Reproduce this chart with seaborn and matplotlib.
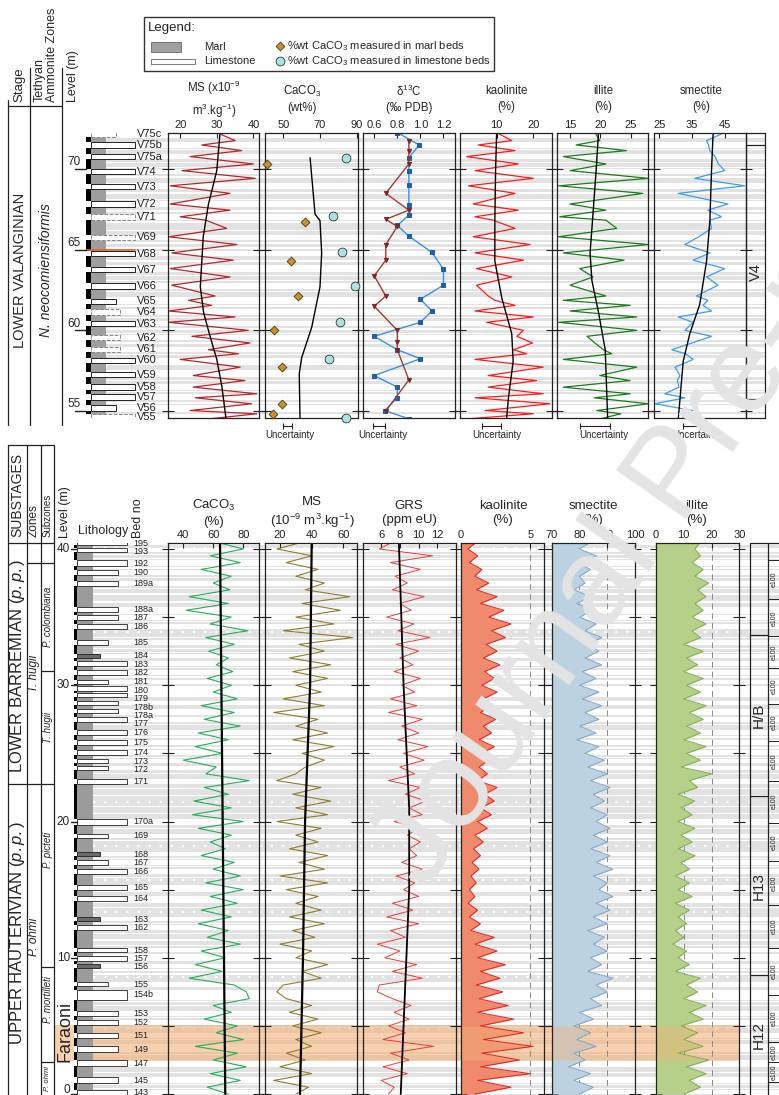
import numpy as np
import pandas as pd
import matplotlib
matplotlib.use("Agg")
import matplotlib.pyplot as plt
import seaborn as sns
from matplotlib.patches import Rectangle
from matplotlib.ticker import FormatStrFormatter

# ---------------------------------------------------------------- data
# Lower Valanginian section (levels in m)
lv_top = [72.26, 71.76, 71.49, 71.14, 70.77, 70.31, 69.90, 69.42, 68.96, 68.49,
          67.83, 67.45, 67.04, 66.83, 66.32, 65.80, 65.32, 64.80, 64.35, 63.83,
          63.31, 62.80, 62.13, 61.86, 61.55, 61.20, 60.83, 60.50, 60.00, 59.63,
          59.22, 58.80, 58.55, 58.20, 57.72, 57.20, 56.89, 56.48, 56.07, 55.82,
          55.45, 55.03, 54.83, 54.52]
ms_top = [30.0, 35.0, 25.9, 36.8, 22.7, 40.0, 20.5, 40.5, 17.3, 33.6,
          17.3, 33.6, 20.0, 27.0, 32.7, 16.8, 35.5, 17.7, 34.5, 17.3,
          33.6, 17.7, 29.5, 22.3, 28.6, 16.8, 35.0, 16.8, 38.6, 23.2,
          39.1, 27.7, 35.9, 20.0, 36.4, 23.6, 37.7, 23.6, 40.9, 24.1,
          39.5, 22.7, 40.9, 28.2]
kao_top = [10.0, 14.1, 5.0, 15.0, 1.8, 15.9, 4.1, 20.0, 2.3, 15.0,
           3.6, 15.9, 4.1, 9.0, 15.0, 3.6, 19.1, 4.1, 17.3, 4.5,
           14.1, 4.5, 7.7, 9.5, 15.0, 4.1, 20.0, 7.3, 17.3, 15.5,
           19.8, 14.5, 18.2, 4.1, 22.7, 7.7, 20.9, 7.7, 22.7, 4.1,
           24.5, 6.8, 20.0, 2.3]
ill_top = [19.1, 19.9, 16.0, 24.3, 13.9, 20.9, 15.0, 27.9, 13.1, 27.0,
           15.0, 20.9, 13.3, 20.9, 22.7, 13.1, 27.9, 13.9, 23.9, 16.6,
           18.8, 15.0, 20.9, 13.9, 24.9, 15.0, 26.0, 13.1, 26.0, 17.8,
           19.1, 20.5, 21.9, 13.9, 26.0, 19.9, 24.9, 13.9, 24.9, 19.0,
           27.9, 19.4, 23.4, 20.0]
sme_top = [44.9, 39.4, 40.0, 40.4, 42.0, 43.0, 44.9, 35.8, 51.0, 30.8,
           45.9, 39.8, 43.9, 40.4, 40.9, 37.0, 32.8, 40.4, 35.3, 44.9,
           39.4, 42.9, 36.3, 39.8, 38.3, 40.9, 30.8, 35.3, 32.8, 40.9,
           35.0, 28.8, 33.0, 35.3, 29.8, 31.3, 30.5, 31.0, 26.7, 32.8,
           23.7, 35.3, 33.0, 32.0]

ms_tr_lv = [72.3, 69.9, 67.8, 65.8, 62.7, 61.1, 59.6, 58.2, 56.5, 54.55]
ms_tr = [30.9, 30.0, 27.7, 26.3, 25.5, 26.4, 28.2, 30.0, 31.4, 32.5]
cc_tr_lv = [70.7, 67.2, 66.8, 64.8, 62.7, 60.2, 58.3, 57.3, 54.55]
cc_tr = [64.6, 67.3, 70.0, 70.9, 70.0, 65.5, 60.0, 58.7, 59.1]
kao_tr_lv = [72.3, 69.9, 66.8, 64.3, 62.0, 59.8, 58.1, 55.8, 54.55]
kao_tr = [10.0, 9.7, 9.5, 9.5, 11.4, 14.1, 14.5, 13.2, 12.7]
ill_tr_lv = [72.3, 69.9, 66.8, 64.8, 63.1, 61.1, 58.8, 54.55]
ill_tr = [19.7, 19.3, 18.7, 18.3, 18.6, 19.7, 20.8, 21.2]
sme_tr_lv = [72.3, 69.9, 66.8, 64.3, 61.6, 59.8, 58.1, 54.55]
sme_tr = [41.4, 40.9, 40.4, 39.4, 37.3, 34.3, 32.3, 30.8]

cc_marl_lv = [70.29, 66.73, 64.31, 62.13, 60.00, 57.72, 55.45, 54.83]
cc_marl = [40.9, 61.8, 54.2, 58.2, 44.9, 49.1, 49.1, 44.2]
cc_lime_lv = [70.70, 67.10, 64.83, 62.75, 60.50, 58.24, 54.55]
cc_lime = [84.2, 76.9, 81.8, 89.1, 80.9, 75.1, 84.2]

c13_lime_lv = [72.26, 71.49, 70.70, 69.90, 69.00, 67.76, 67.14, 66.50, 65.84, 64.83,
               63.79, 62.80, 61.93, 61.20, 60.50, 59.63, 58.80, 58.24, 57.20, 56.48,
               55.82, 55.03, 54.52]
c13_lime = [0.80, 0.99, 0.90, 0.90, 0.90, 0.90, 0.90, 0.80, 0.90, 1.10,
            1.20, 1.20, 1.00, 1.10, 1.00, 0.60, 0.80, 1.00, 0.60, 0.80,
            0.80, 0.69, 0.90]
c13_marl_lv = [71.76, 71.14, 70.31, 68.49, 67.45, 66.88, 66.44, 65.32, 64.35, 63.38,
               62.13, 61.50, 60.00, 59.28, 58.80, 56.93, 55.00]
c13_marl = [0.90, 0.90, 0.90, 0.70, 0.90, 0.70, 0.80, 0.70, 0.70, 0.60,
            0.70, 0.60, 0.80, 0.80, 0.80, 0.90, 0.70]

# analytical uncertainty (half-width)
unc_caco3, unc_c13, unc_kao, unc_ill, unc_sme = 2.5, 0.05, 2.5, 2.5, 2.5

top_beds = ["V75c", "V75b", "V75a", "V74", "V73", "V72", "V71", "V69", "V68", "V67",
            "V66", "V65", "V64", "V63", "V62", "V61", "V60", "V59", "V58", "V57",
            "V56", "V55"]
top_bed_lv = [72.15, 71.49, 70.76, 69.83, 68.90, 67.83, 67.04, 65.76, 64.76, 63.77,
              62.75, 61.80, 61.14, 60.42, 59.55, 58.82, 58.14, 57.25, 56.48, 55.86,
              55.20, 54.66]
top_bed_hard = [1, 3, 3, 3, 3, 3, 3, 3, 3, 3, 3, 1, 2, 3, 2, 2, 3, 3, 3, 3, 1, 3]
top_bed_nodular = [1, 0, 0, 0, 0, 0, 1, 1, 0, 0, 0, 0, 1, 0, 1, 1, 0, 0, 0, 0, 0, 1]
top_thin = [72.0, 71.2, 70.4, 70.1, 69.5, 69.1, 68.5, 68.1, 67.4, 66.7, 66.2, 65.4,
            65.1, 64.3, 64.0, 63.4, 63.1, 62.4, 62.0, 61.5, 60.8, 60.1, 59.8, 59.2,
            58.5, 57.9, 57.5, 56.9, 56.2, 55.5, 55.0]

# Upper Hauterivian - Lower Barremian section, sampled every 0.5 m
lv_bot = np.arange(40.5, -0.25, -0.5)
caco3_b = [62, 80, 58, 78, 52, 72, 60, 71, 44, 70,
           42, 72, 58, 83, 55, 74, 57, 70, 62, 73,
           56, 72, 60, 76, 52, 74, 54, 78, 50, 70,
           48, 66, 40, 62, 55, 84, 54, 70, 47, 72,
           46, 80, 50, 72, 58, 68, 52, 74, 60, 78,
           55, 80, 58, 76, 52, 72, 50, 70, 56, 78,
           52, 68, 48, 66, 44, 74, 82, 84, 60, 72,
           54, 76, 62, 80, 48, 76, 60, 82, 58, 78,
           56, 70]
ms_b = [34, 18, 40, 24, 44, 30, 48, 36, 64, 34,
        58, 30, 54, 22, 66, 32, 48, 26, 52, 28,
        50, 30, 46, 22, 48, 16, 44, 30, 50, 28,
        54, 34, 48, 36, 30, 18, 46, 28, 52, 30,
        50, 18, 46, 30, 44, 26, 50, 32, 48, 20,
        50, 24, 44, 30, 46, 26, 48, 28, 42, 20,
        40, 30, 50, 34, 46, 22, 18, 24, 40, 26,
        44, 28, 46, 30, 40, 24, 36, 20, 40, 16,
        38, 30]
grs_b = [7.2, 5.8, 11.5, 7.0, 10.2, 7.5, 8.8, 7.2, 10.6, 8.0,
         9.2, 6.6, 9.5, 7.8, 11.2, 7.6, 10.0, 8.0, 9.4, 7.4,
         10.2, 8.2, 9.6, 7.0, 9.8, 6.8, 10.4, 8.2, 10.0, 7.8,
         11.0, 8.4, 10.6, 8.0, 9.6, 6.8, 10.2, 8.6, 10.8, 9.0,
         10.4, 7.4, 10.0, 8.8, 10.2, 9.0, 9.8, 8.2, 10.4, 7.6,
         9.6, 8.4, 10.0, 7.2, 9.4, 6.6, 10.0, 7.0, 8.6, 5.6,
         8.0, 6.4, 9.8, 7.2, 10.4, 5.8, 5.6, 7.2, 9.2, 7.4,
         9.0, 6.8, 8.6, 6.2, 11.6, 7.0, 9.0, 6.2, 8.8, 6.0,
         7.4, 6.8]
kao_b = [1.1, 0.5, 1.2, 0.6, 1.5, 1.0, 2.0, 1.1, 2.6, 1.4,
         3.1, 2.0, 3.6, 2.2, 3.2, 1.8, 2.6, 1.6, 2.8, 1.7,
         2.4, 1.5, 2.6, 1.6, 2.2, 1.4, 2.5, 1.6, 2.2, 1.3,
         2.4, 1.5, 2.0, 1.3, 1.9, 1.2, 2.6, 1.7, 2.4, 1.4,
         2.2, 1.2, 1.9, 1.0, 1.6, 0.9, 1.4, 0.8, 1.3, 0.7,
         1.1, 0.6, 1.0, 0.5, 1.2, 0.6, 1.4, 0.7, 2.4, 1.0,
         2.6, 1.2, 3.2, 1.4, 2.8, 1.1, 3.0, 1.3, 3.4, 1.2,
         3.8, 1.4, 4.5, 1.6, 5.2, 1.5, 4.2, 1.4, 5.0, 1.2,
         3.6, 1.0]
sme_b = [84, 80, 86, 79, 84, 80, 82, 78, 84, 79,
         85, 80, 86, 82, 88, 83, 87, 82, 88, 81,
         86, 80, 87, 81, 88, 82, 87, 80, 86, 79,
         87, 82, 89, 83, 90, 84, 91, 85, 89, 84,
         90, 86, 91, 85, 90, 84, 91, 86, 92, 85,
         90, 87, 92, 86, 91, 85, 90, 83, 89, 85,
         90, 84, 88, 83, 92, 86, 90, 84, 88, 80,
         85, 78, 84, 79, 86, 78, 82, 76, 84, 78,
         85, 80]
ill_b = [16, 14, 16, 13, 17, 14, 19, 15, 18, 14,
         17, 13, 18, 13, 16, 10, 17, 11, 15, 10,
         17, 11, 16, 10, 18, 12, 17, 11, 16, 10,
         18, 11, 16, 9, 20, 12, 15, 8, 14, 9,
         13, 8, 14, 9, 13, 8, 14, 9, 12, 7,
         12, 8, 13, 7, 12, 8, 11, 7, 10, 6,
         11, 8, 12, 7, 16, 11, 15, 10, 18, 12,
         17, 9, 15, 10, 17, 8, 19, 11, 18, 12,
         16, 10]
caco3_b_tr_lv = [40.46, 0.0]
caco3_b_tr = [64.5, 68.0]
ms_b_tr_lv = [40.46, 30.0, 20.0, 10.0, 0.0]
ms_b_tr = [40.0, 39.0, 35.8, 34.5, 32.6]
grs_b_tr_lv = [40.46, 30.0, 21.0, 15.0, 10.0, 0.0]
grs_b_tr = [7.9, 8.4, 9.0, 9.0, 8.7, 8.1]

bot_beds = ["195", "193", "192", "190", "189a", "188a", "187", "186", "185", "184",
            "183", "182", "181", "180", "179", "178b", "178a", "177", "176", "175",
            "174", "173", "172", "171", "170a", "169", "168", "167", "166", "165",
            "164", "163", "162", "158", "157", "156", "155", "154b", "153", "152",
            "151", "149", "147", "145", "143"]
bot_bed_lv = [40.40, 39.90, 38.95, 38.26, 37.48, 35.57, 34.99, 34.30, 33.12, 32.17,
              31.61, 30.92, 30.26, 29.78, 29.28, 28.72, 28.11, 27.50, 26.55, 25.81,
              25.08, 24.44, 23.90, 22.92, 19.99, 18.96, 17.59, 16.98, 16.32, 15.16,
              14.36, 12.82, 12.23, 10.57, 9.96, 9.42, 8.05, 7.27, 5.92, 5.23,
              4.31, 3.30, 2.25, 1.03, 0.12]
bot_bed_thick = [0.2, 0.3, 0.45, 0.35, 0.35, 0.35, 0.35, 0.35, 0.35, 0.3,
                 0.35, 0.35, 0.3, 0.35, 0.35, 0.3, 0.35, 0.4, 0.4, 0.4,
                 0.4, 0.3, 0.3, 0.4, 0.45, 0.3, 0.3, 0.35, 0.4, 0.4,
                 0.35, 0.3, 0.35, 0.35, 0.35, 0.3, 0.3, 0.7, 0.35, 0.35,
                 0.4, 0.45, 0.45, 0.4, 0.4]
bot_bed_hard = [3, 3, 3, 2, 2, 2, 2, 3, 1, 0,
                3, 3, 1, 3, 3, 2, 2, 3, 3, 3,
                3, 1, 1, 3, 3, 1, 0, 1, 3, 3,
                3, 0, 3, 3, 3, 0, 1, 3, 2, 2,
                2, 2, 3, 2, 3]
bot_thin = [39.6, 39.3, 38.6, 37.9, 37.1, 36.7, 36.1, 35.3, 34.7, 33.5, 32.7, 32.4,
            31.3, 30.6, 29.5, 27.9, 27.1, 26.2, 25.4, 24.7, 23.5, 22.4, 21.9, 21.1,
            20.6, 19.5, 18.6, 17.3, 16.7, 15.9, 14.9, 14.1, 13.7, 12.5, 11.8, 11.3,
            10.9, 10.2, 9.1, 8.8, 7.9, 6.8, 6.5, 5.6, 4.9, 4.0, 3.6, 2.9, 2.0, 1.6,
            0.7, 0.4]
bot_dotted = [40.07, 33.9, 21.45, 18.2, 15.7, 13.38, 8.57, 4.77]
faraoni = (2.42, 5.06)
seq_bounds = [40.46, 33.7, 21.9, 8.7, -0.07]
seq_names = ["", "H/B", "H13", "H12"]
e100_bounds = [39.2, 36.3, 33.6, 31.3, 28.6, 25.9, 23.0, 19.9, 17.1, 13.9, 10.7,
               7.3, 3.8, 2.35, 0.9]

# ---------------------------------------------------------------- style
sns.set_style("white")
plt.rcParams["font.family"] = ["Liberation Sans", "DejaVu Sans"]
plt.rcParams["mathtext.fontset"] = "custom"
plt.rcParams["mathtext.rm"] = "Liberation Sans"
plt.rcParams["mathtext.it"] = "Liberation Sans:italic"
plt.rcParams["mathtext.default"] = "regular"

W, H = 779, 1095
fig = plt.figure(figsize=(W / 100, H / 100), dpi=100)
fig.patch.set_facecolor("white")

BAND = "#e2e2e2"
ORANGE = "#f2b27a"
TOP_Y = (132.7, 418.3)
TOP_LIM = (54.55, 72.25)
BOT_Y = (542.7, 1095.0)
BOT_LIM = (-0.07, 40.46)


def px_axes(x0, y0, x1, y1, z=1):
    ax = fig.add_axes([x0 / W, 1 - y1 / H, (x1 - x0) / W, (y1 - y0) / H])
    ax.set_zorder(z)
    return ax


def backdrop(yr, lim):
    ax = px_axes(0, yr[0], W, yr[1], z=0)
    ax.set_xlim(0, W)
    ax.set_ylim(lim)
    ax.axis("off")
    return ax


def style_col(ax, xlim, ticks, lim, fmt, ytk):
    ax.set_facecolor("none")
    ax.set_xlim(xlim)
    ax.set_ylim(lim)
    ax.xaxis.tick_top()
    ax.set_xticks(ticks)
    ax.xaxis.set_major_formatter(FormatStrFormatter(fmt))
    ax.tick_params(axis="x", direction="in", length=3.5, width=0.8, labelsize=8,
                   pad=2, top=True, bottom=False, labeltop=True, labelbottom=False,
                   colors="#222")
    ax.set_yticks(ytk)
    ax.tick_params(axis="y", direction="inout", length=8, width=0.8, left=True,
                   right=True, labelleft=False, colors="#222")
    for s in ax.spines.values():
        s.set_linewidth(0.9)
        s.set_color("#222")
        s.set_visible(True)
    ax.set_xlabel("")
    ax.set_ylabel("")


def trace(ax, vals, lv, color, lw, **kw):
    df = pd.DataFrame({"v": vals, "lv": lv})
    sns.lineplot(data=df, x="v", y="lv", orient="y", sort=True, estimator=None,
                 color=color, lw=lw, ax=ax, **kw)
    ax.set_xlabel("")
    ax.set_ylabel("")


def spread(levels, gap):
    """Label positions pushed apart (top to bottom) so neighbours keep a minimum gap."""
    out = []
    for lv in levels:
        if out and out[-1] - lv < gap:
            lv = out[-1] - gap
        out.append(lv)
    return out


# ================================================================ top panel
bg_t = backdrop(TOP_Y, TOP_LIM)
span_t = TOP_LIM[1] - TOP_LIM[0]
bg_t.add_patch(Rectangle((86, TOP_LIM[0]), 765 - 86, span_t, color=BAND, lw=0, zorder=1))
for lv in top_thin:
    bg_t.add_patch(Rectangle((86, lv - 0.05), 765 - 86, 0.1, color="white", lw=0, zorder=1.1))
for lv in top_bed_lv:
    bg_t.add_patch(Rectangle((86, lv - 0.17), 765 - 86, 0.34, color="white", lw=0, zorder=1.1))

# lithology log
bg_t.add_patch(Rectangle((86, TOP_LIM[0]), 4.7, span_t, color="black", lw=0, zorder=2))
bg_t.add_patch(Rectangle((90.7, TOP_LIM[0]), 15.3, span_t, color="#9e9e9e", lw=0, zorder=2))
top_edge = {1: 116.0, 2: 120.0, 3: 135.0}
for name, lv, hd, nod in zip(top_beds, top_bed_lv, top_bed_hard, top_bed_nodular):
    bg_t.add_patch(Rectangle((86, lv - 0.17), 4.7, 0.34, color="white", lw=0, zorder=2.1))
    bg_t.add_patch(Rectangle((90.7, lv - 0.17), top_edge[hd] - 90.7, 0.34,
                             facecolor="white",
                             edgecolor="#888888" if nod else "#222222",
                             ls="--" if nod else "-", lw=0.7, zorder=2.2))
    bg_t.text(137, lv, name, fontsize=8, va="center", ha="left", color="#222")
bg_t.plot([86, 135], [64.95, 64.95], color="#e8602c", lw=1.2, zorder=2.3)
for lv in [55, 60, 65, 70]:
    bg_t.plot([75, 86], [lv, lv], color="#222", lw=1, zorder=2.3)
    bg_t.text(81, lv + 0.42, str(lv), fontsize=8.5, ha="right", va="center")

# V4 box
for x in (745.7, 765):
    bg_t.plot([x, x], list(TOP_LIM), color="#222", lw=0.9, clip_on=False)
for lv in (TOP_LIM[1], 71.49, 55.73, TOP_LIM[0]):
    bg_t.plot([745.7, 765], [lv, lv], color="#222", lw=0.9, clip_on=False)
bg_t.text(755.5, 63.6, "V4", rotation=90, ha="center", va="center", fontsize=10.5)

top_cols = [
    (167.7, 259.3, (16.6, 41.6), [20, 30, 40], "%g"),
    (265.3, 358.0, (40.2, 90.7), [50, 70, 90], "%g"),
    (362.7, 455.0, (0.5, 1.3), [0.6, 0.8, 1.0, 1.2], "%.1f"),
    (460.0, 551.7, (0.0, 25.0), [10, 20], "%g"),
    (557.3, 648.3, (12.9, 27.9), [15, 20, 25], "%g"),
    (654.0, 745.7, (23.4, 51.3), [25, 35, 45], "%g"),
]
tax = []
for x0, x1, xl, tk, fm in top_cols:
    a = px_axes(x0, TOP_Y[0], x1, TOP_Y[1], z=2)
    style_col(a, xl, tk, TOP_LIM, fm, [55, 60, 65, 70])
    tax.append(a)

a_ms, a_cc, a_c13, a_kao, a_ill, a_sme = tax
trace(a_ms, ms_top, lv_top, "#b8262c", 0.9)
trace(a_ms, ms_tr, ms_tr_lv, "black", 1.0)
trace(a_cc, cc_tr, cc_tr_lv, "black", 1.0)
sns.scatterplot(x=cc_marl, y=cc_marl_lv, marker="D", s=20, color="#c8902e",
                edgecolor="#4a3a10", linewidth=0.6, ax=a_cc, clip_on=False, zorder=5)
sns.scatterplot(x=cc_lime, y=cc_lime_lv, marker="o", s=40, color="#a8e4e4",
                edgecolor="#333333", linewidth=0.6, ax=a_cc, clip_on=False, zorder=5)
trace(a_c13, c13_lime, c13_lime_lv, "#3a8fe8", 1.0, marker="s", markersize=3,
      markerfacecolor="#1f5fb0", markeredgecolor="#1f5fb0")
trace(a_c13, c13_marl, c13_marl_lv, "#a33a2e", 1.0, marker="v", markersize=3,
      markerfacecolor="#7a2a20", markeredgecolor="#7a2a20")
trace(a_kao, kao_top, lv_top, "#ff1a1a", 0.9)
trace(a_kao, kao_tr, kao_tr_lv, "black", 1.0)
trace(a_ill, ill_top, lv_top, "#1a7d1a", 0.9)
trace(a_ill, ill_tr, ill_tr_lv, "black", 1.0)
trace(a_sme, sme_top, lv_top, "#3d9df0", 0.9)
trace(a_sme, sme_tr, sme_tr_lv, "black", 1.0)
for a in tax:
    a.set_ylim(TOP_LIM)

# uncertainty bars under the columns
for a, xc, u in [(a_cc, 52.3, unc_caco3), (a_c13, 0.64, unc_c13), (a_kao, 8.6, unc_kao),
                 (a_ill, 19.1, unc_ill), (a_sme, 34.8, unc_sme)]:
    tr = a.get_xaxis_transform()
    a.errorbar([xc], [-0.027], xerr=[u], transform=tr, color="#222", lw=0.8,
               capsize=2, capthick=0.8, clip_on=False)
    a.text(xc + u * 0.6, -0.058, "Uncertainty", transform=tr, ha="center",
           va="center", fontsize=7)

# ================================================================ bottom panel
bg_b = backdrop(BOT_Y, BOT_LIM)
span_b = BOT_LIM[1] - BOT_LIM[0]
bg_b.add_patch(Rectangle((77, BOT_LIM[0]), W - 77, span_b, color=BAND, lw=0, zorder=1))
for lv in bot_thin:
    bg_b.add_patch(Rectangle((77, lv - 0.05), W - 77, 0.1, color="white", lw=0, zorder=1.1))
for lv, th in zip(bot_bed_lv, bot_bed_thick):
    bg_b.add_patch(Rectangle((77, lv - th / 2), W - 77, th, color="white", lw=0, zorder=1.1))
for lv in bot_dotted:
    bg_b.plot([93, 750], [lv, lv], color="white", lw=1.6, ls=(0, (1, 4)), zorder=1.2)
bg_b.add_patch(Rectangle((54.3, faraoni[0]), 739.3 - 54.3, faraoni[1] - faraoni[0],
                         color=ORANGE, alpha=0.6, lw=0, zorder=1.3))

# lithology log
bg_b.add_patch(Rectangle((74, BOT_LIM[0]), 3.3, span_b, color="black", lw=0, zorder=2))
bg_b.add_patch(Rectangle((77.3, BOT_LIM[0]), 15.4, span_b, color="#9b9b9b", lw=0, zorder=2))
bot_edge = {0: 100.0, 1: 108.0, 2: 118.0, 3: 127.0}
label_lv = spread(bot_bed_lv, 0.62)
for name, lv, th, hd, tl in zip(bot_beds, bot_bed_lv, bot_bed_thick, bot_bed_hard, label_lv):
    bg_b.add_patch(Rectangle((74, lv - th / 2), 3.3, th, color="white", lw=0, zorder=2.1))
    bg_b.add_patch(Rectangle((77.3, lv - th / 2), bot_edge[hd] - 77.3, th,
                             facecolor="white" if hd else "#6a6a6a",
                             edgecolor="#222", lw=0.6, zorder=2.2))
    bg_b.text(133, tl, name, fontsize=6.5, va="center", ha="left", color="#222")
for lv in [0, 10, 20, 30, 40]:
    bg_b.plot([71, 77], [lv, lv], color="#222", lw=1, zorder=2.3, clip_on=False)
    bg_b.text(70, max(lv, 0.3), str(lv), fontsize=8.5, ha="right", va="center")

# sequence boxes on the right
for x in (750, 767.7):
    bg_b.plot([x, x], list(BOT_LIM), color="#222", lw=0.9, clip_on=False)
bg_b.plot([750, W], [BOT_LIM[1]] * 2, color="#222", lw=0.9, clip_on=False)
for lv in seq_bounds[1:-1]:
    bg_b.plot([750, 767.7], [lv, lv], color="#222", lw=0.9)
for (hi, lo), nm in zip(zip(seq_bounds[:-1], seq_bounds[1:]), seq_names):
    if nm:
        bg_b.text(758.8, (hi + lo) / 2, nm, rotation=90, ha="center", va="center",
                  fontsize=11)
for lv in e100_bounds:
    bg_b.plot([767.7, W], [lv, lv], color="#222", lw=0.7)
for hi, lo in zip(e100_bounds[:-1], e100_bounds[1:]):
    bg_b.text(774, (hi + lo) / 2, "e100", rotation=90, ha="center", va="center",
              fontsize=5)

bot_cols = [
    (167.7, 259.3, (29.6, 90.7), [40, 60, 80], None),
    (265.3, 357.3, (10.7, 68.8), [20, 40, 60], None),
    (363.3, 456.0, (4.1, 14.0), [6, 8, 10, 12], None),
    (461.0, 544.3, (0.0, 6.0), [0, 5], [5]),
    (551.7, 635.0, (70, 100), [70, 80, 90, 100], [80, 90]),
    (656.0, 739.3, (0, 30), [0, 10, 20, 30], [10, 20]),
]
bax = []
for x0, x1, xl, tk, gr in bot_cols:
    a = px_axes(x0, BOT_Y[0], x1, BOT_Y[1], z=2)
    style_col(a, xl, tk, BOT_LIM, "%g", [0, 5, 10, 15, 20, 25, 30, 35, 40])
    if gr:
        for g in gr:
            a.axvline(g, color="#8a8a8a", lw=0.7, ls=(0, (6, 4)), zorder=0.5)
    bax.append(a)
b_cc, b_ms, b_grs, b_kao, b_sme, b_ill = bax

trace(b_cc, caco3_b, lv_bot, "#22b05a", 0.8)
trace(b_cc, caco3_b_tr, caco3_b_tr_lv, "black", 1.6)
trace(b_ms, ms_b, lv_bot, "#8f7d2c", 0.8)
trace(b_ms, ms_b_tr, ms_b_tr_lv, "black", 1.6)
trace(b_grs, grs_b, lv_bot, "#ee3b3b", 0.7)
trace(b_grs, grs_b_tr, grs_b_tr_lv, "black", 1.3)

in_band = (lv_bot >= faraoni[0]) & (lv_bot <= faraoni[1])
for a, vals, base, fc, ec in [(b_kao, kao_b, 0, "#f08a6c", "#e82020"),
                              (b_sme, sme_b, 70, "#bcd2e0", "#7fa6cc"),
                              (b_ill, ill_b, 0, "#b6d08a", "#7db04e")]:
    v = np.asarray(vals, float)
    a.fill_betweenx(lv_bot, base, v, color=fc, lw=0, zorder=1)
    a.fill_betweenx(lv_bot[in_band], base, v[in_band], color=ORANGE, alpha=0.45,
                    lw=0, zorder=1.2)
    trace(a, v, lv_bot, ec, 0.7)
for a in bax:
    a.set_ylim(BOT_LIM)

# ================================================================ headers / frames
ov = fig.add_axes([0, 0, 1, 1])
ov.set_zorder(3)
ov.set_xlim(0, W)
ov.set_ylim(H, 0)
ov.axis("off")
ov.set_facecolor("none")
K = dict(color="#222", lw=0.9)

# legend box
ov.add_patch(Rectangle((144.3, 17.3), 349.7, 53.4, facecolor="white", edgecolor="#333", lw=1))
ov.text(148, 28, "Legend:", fontsize=9.5, va="center")
ov.add_patch(Rectangle((151, 42), 30, 10, facecolor="#a0a0a0", edgecolor="#666", lw=0.6))
ov.add_patch(Rectangle((151, 58.5), 44, 5, facecolor="white", edgecolor="#666", lw=0.6))
ov.text(204, 47, "Marl", fontsize=8, va="center")
ov.text(204, 61, "Limestone", fontsize=8, va="center")
ov.scatter([280], [46], marker="D", s=20, color="#c8902e", edgecolor="#4a3a10", lw=0.6)
ov.scatter([280], [61], marker="o", s=40, color="#a8e4e4", edgecolor="#333", lw=0.6)
ov.text(287, 46, "%wt CaCO$_3$ measured in marl beds", fontsize=8, va="center")
ov.text(287, 61, "%wt CaCO$_3$ measured in limestone beds", fontsize=8, va="center")

# top column titles
for xc, t in [(214, "MS (x10$^{-9}$\nm$^{3}$.kg$^{-1}$)"), (302, "CaCO$_{3}$\n(wt%)"),
              (409, "δ$^{13}$C\n(‰ PDB)"), (506, "kaolinite\n(%)"),
              (603, "illite\n(%)"), (701, "smectite\n(%)")]:
    ov.text(xc, 99, t, ha="center", va="center", fontsize=8.3, linespacing=1.35)

# top stratigraphic columns
ov.plot([8.3, 8.3], [100, 425], **K)
ov.plot([30, 30], [68, 425], **K)
ov.plot([62.3, 62.3], [68, 425], **K)
ov.plot([8.3, 62.3], [106, 106], **K)
ov.text(19, 102, "Stage", rotation=90, ha="center", va="bottom", fontsize=9.5)
ov.text(46, 102, "Tethyan\nAmmonite Zones", rotation=90, ha="center", va="bottom",
        fontsize=9, multialignment="left", linespacing=1.0)
ov.text(73, 102, "Level (m)", rotation=90, ha="center", va="bottom", fontsize=9)
ov.text(20, 270, "LOWER VALANGINIAN", rotation=90, ha="center", va="center", fontsize=10.5)
ov.text(46, 270, "N. neocomiensiformis", rotation=90, ha="center", va="center",
        fontsize=10, style="italic")

# bottom column titles
for xc, t in [(214, "CaCO$_{3}$\n(%)"), (312, "MS\n(10$^{-9}$ m$^{3}$.kg$^{-1}$)"),
              (409, "GRS\n(ppm eU)"), (503, "kaolinite\n(%)"),
              (593, "smectite\n(%)"), (697, "illite\n(%)")]:
    ov.text(xc, 513, t, ha="center", va="center", fontsize=9.5, linespacing=1.25)

# bottom stratigraphic columns
for x in (8.3, 26.7, 40.7, 54.3):
    ov.plot([x, x], [445, H], **K)
ov.plot([8.3, 54.3], [445, 445], **K)
ov.plot([8.3, 54.3], [542.7, 542.7], **K)
ov.text(17.5, 537, "SUBSTAGES", rotation=90, ha="center", va="bottom", fontsize=10)
ov.text(34, 537, "Zones", rotation=90, ha="center", va="bottom", fontsize=8.5)
ov.text(48, 537, "Subzones", rotation=90, ha="center", va="bottom", fontsize=7)
ov.text(65, 538, "Level (m)", rotation=90, ha="center", va="bottom", fontsize=9)
ov.text(103, 531, "Lithology", ha="center", va="center", fontsize=9)
ov.text(138.5, 538, "Bed no", rotation=90, ha="center", va="bottom", fontsize=9)

bg_b.plot([8.3, 54.3], [22.75, 22.75], clip_on=False, **K)
bg_b.plot([26.7, 54.3], [38.95, 38.95], clip_on=False, **K)
for lv in (31.05, 9.32, 2.37):
    bg_b.plot([40.7, 54.3], [lv, lv], clip_on=False, **K)
bg_b.text(17.5, 31.4, "LOWER BARREMIAN ($\\mathit{p.p.}$)", rotation=90, ha="center",
          va="center", fontsize=12)
bg_b.text(17.5, 11.8, "UPPER HAUTERIVIAN ($\\mathit{p.p.}$)", rotation=90, ha="center",
          va="center", fontsize=12)
bg_b.text(34, 30.9, "T. hugii", rotation=90, ha="center", va="center", fontsize=8.5,
          style="italic")
bg_b.text(34, 11.5, "P. ohmi", rotation=90, ha="center", va="center", fontsize=8.5,
          style="italic")
bg_b.text(48, 35.0, "P. colombiana", rotation=90, ha="center", va="center", fontsize=7,
          style="italic")
bg_b.text(48, 26.9, "T. hugii", rotation=90, ha="center", va="center", fontsize=7,
          style="italic")
bg_b.text(48, 17.9, "P. picteti", rotation=90, ha="center", va="center", fontsize=7,
          style="italic")
bg_b.text(48, 6.9, "P. mortilleti", rotation=90, ha="center", va="center", fontsize=7,
          style="italic")
bg_b.text(48, 1.15, "P. ohmi", rotation=90, ha="center", va="center", fontsize=5.5,
          style="italic")
bg_b.text(65, 4.6, "Faraoni", rotation=90, ha="center", va="center", fontsize=13)

fig.text(426 / W, 1 - 891 / H, "Journal Pre-proof", rotation=55, rotation_mode="anchor",
         ha="left", va="baseline", fontsize=90, color="#e4e4e4", zorder=50)

fig.savefig("out.png", dpi=100)
